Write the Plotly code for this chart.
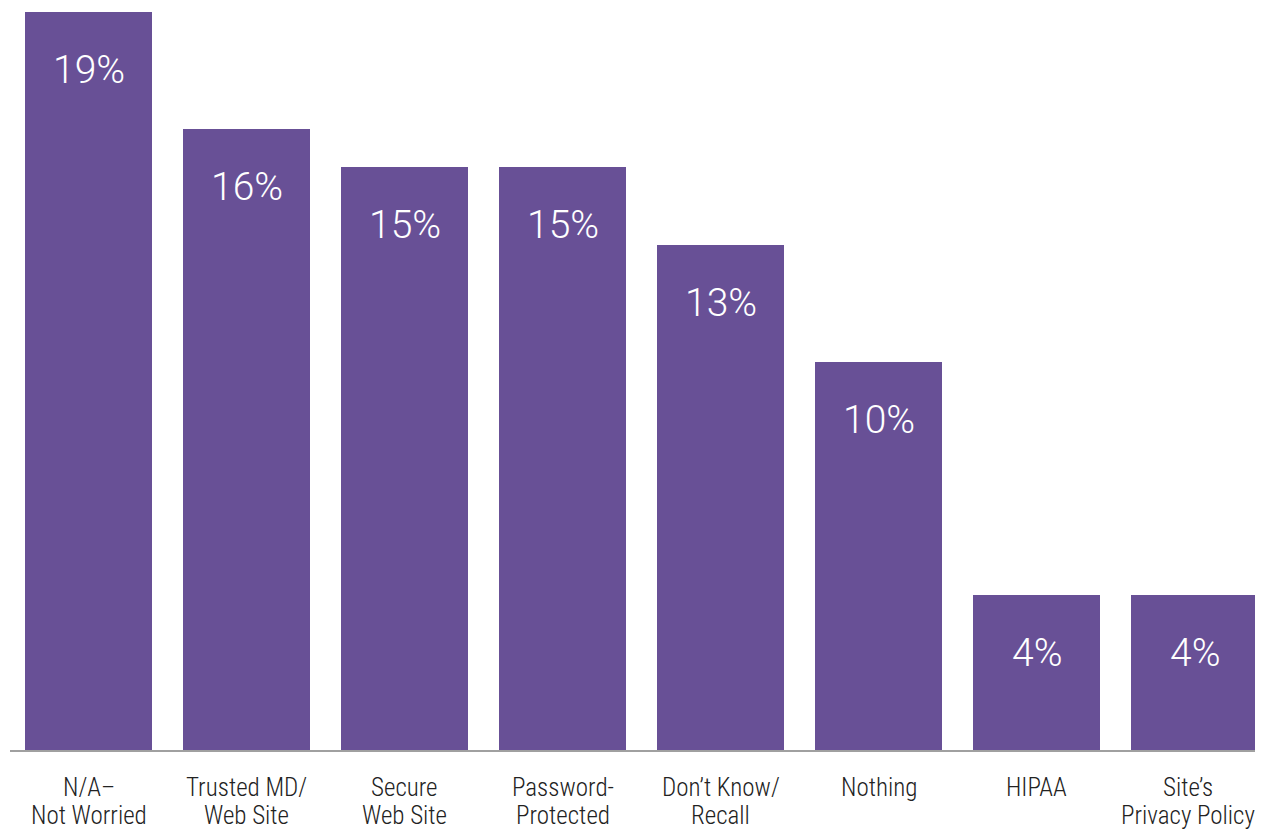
import plotly.graph_objects as go

# two-line category labels
categories = [["N/A\u2013", "Not Worried"], ["Trusted MD/", "Web Site"], ["Secure", "Web Site"],
              ["Password-", "Protected"], ["Don\u2019t Know/", "Recall"], ["Nothing"], ["HIPAA"],
              ["Site\u2019s", "Privacy Policy"]]
values = [19, 16, 15, 15, 13, 10, 4, 4]
labels = [f"{v}%" for v in values]

fig = go.Figure(go.Bar(
    x=list(range(len(values))), y=values,
    marker=dict(color="#685096", line=dict(width=0)),
    width=0.804,
    hoverinfo="skip",
))

for i, (v, t) in enumerate(zip(values, labels)):
    fig.add_annotation(x=i, y=v, text=t, showarrow=False, yanchor="middle",
                       yshift=-58, font=dict(family="Roboto", size=39, color="white", weight=300))

for i, lines in enumerate(categories):
    for j, line in enumerate(lines):
        # keep the last, widest label inside the window
        xs = -7 if i == len(categories) - 1 else 0
        fig.add_annotation(x=i, y=0, yref="paper", text=line, showarrow=False,
                           yanchor="middle", yshift=-37 - 28 * j, xshift=xs,
                           font=dict(family="Roboto Condensed", size=25, color="#222222", weight=300))

fig.update_layout(
    width=1255, height=821,
    margin=dict(l=2, r=0, t=0, b=79),
    plot_bgcolor="white", paper_bgcolor="white",
    showlegend=False,
    bargap=0,
)
fig.update_xaxes(
    range=[-0.497, 7.433],
    showticklabels=False,
    showline=True, linecolor="#a0a0a0", linewidth=2,
    showgrid=False, ticks="", zeroline=False,
)
fig.update_yaxes(range=[0, 19.103], visible=False, showgrid=False)

fig.write_html("out.html")
